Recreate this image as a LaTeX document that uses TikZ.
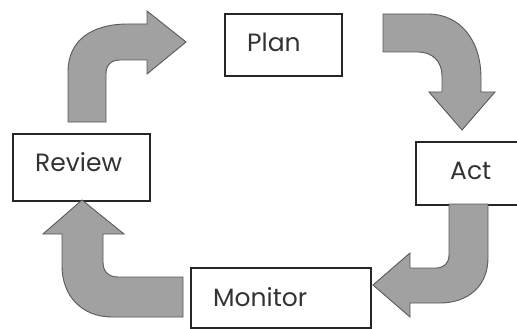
\documentclass[tikz,border=0pt]{standalone}
\usepackage{fontspec}
\setmainfont{Poppins}
\begin{document}
\begin{tikzpicture}[x=1pt,y=-1pt,
  box/.style={draw=black!85,line width=2pt,rectangle,inner sep=0pt,anchor=north west},
  lbl/.style={anchor=base west,inner sep=0pt,text=black!80,font=\fontsize{25}{30}\selectfont},
  blockarrow/.style={fill=black!37,draw=black!65,line width=0.9pt,line join=miter}]
\useasboundingbox (0,0) rectangle (517,329);
\clip (0,0) rectangle (517,329);
% boxes
\node[box,minimum width=117pt,minimum height=62pt] (plan) at (224,13) {};
\node[lbl] (plantext) at (247,52) {Plan};
\node[box,minimum width=137pt,minimum height=67pt] (review) at (12,133) {};
\node[lbl] (reviewtext) at (35,171) {Review};
\node[box,minimum width=120pt,minimum height=63pt] (act) at (415,141) {};
\node[lbl] (acttext) at (450,179) {Act};
\node[box,minimum width=180pt,minimum height=60pt] (monitor) at (190,267) {};
\node[lbl] (monitortext) at (213,306) {Monitor};
% Review -> Plan
\draw[blockarrow] (68,122) -- (68,72) .. controls (68,40) and (92,24) .. (128,24)
  -- (147,24) -- (147,11) -- (186,42) -- (147,74) -- (147,60) -- (120,60)
  .. controls (111,60) and (106,65) .. (106,74) -- (106,122) -- cycle;
% Plan -> Act
\draw[blockarrow] (383,14) -- (428,14) .. controls (460,14) and (481,40) .. (481,78)
  -- (481,92) -- (495,92) -- (462,130) -- (429,92) -- (442,92) -- (442,76)
  .. controls (442,61) and (432,52) .. (418,52) -- (383,52) -- cycle;
% Act -> Monitor
\draw[blockarrow] (488,204) -- (488,258) .. controls (488,286) and (468,303) .. (440,303)
  -- (410,303) -- (410,317) -- (373,285) -- (410,253) -- (410,268) -- (436,268)
  .. controls (444,268) and (449,263) .. (449,255) -- (449,204) -- cycle;
% Monitor -> Review
\draw[blockarrow] (183,317) -- (112,317) .. controls (82,317) and (62,296) .. (62,266)
  -- (62,234) -- (43,234) -- (82,200) -- (124,234) -- (103,234) -- (103,262)
  .. controls (103,271) and (108,277) .. (118,277) -- (183,277) -- cycle;
\end{tikzpicture}
\end{document}
